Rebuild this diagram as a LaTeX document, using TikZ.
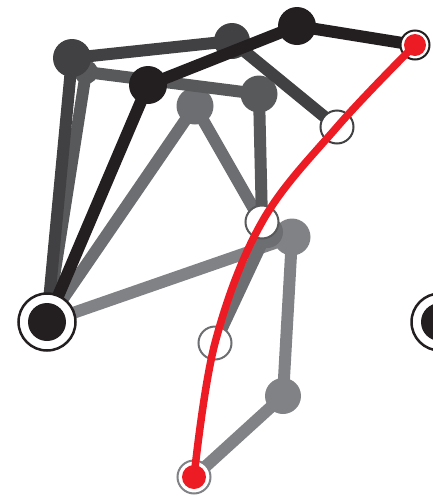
\documentclass[tikz,border=0pt]{standalone}
\usepackage{xcolor}
\usepackage{tikz}

\definecolor{poseA}{HTML}{231F20}
\definecolor{poseB}{HTML}{414042}
\definecolor{poseC}{HTML}{58595B}
\definecolor{poseD}{HTML}{6D6E71}
\definecolor{poseE}{HTML}{808285}
\definecolor{pathred}{HTML}{ED1C24}

\begin{document}
\begin{tikzpicture}[
  x=1pt, y=-1pt,
  link/.style={line width=12pt, line cap=round, line join=round},
  ring/.style={line width=2pt, fill=white},
  trace/.style={pathred, line width=7.5pt, line cap=round}
]
  \useasboundingbox (0,0) rectangle (432,499);

  % base and poses
  \coordinate (base)  at (47,322);
  \coordinate (base2) at (440,322);

  \coordinate (e1) at (292,237);
  \coordinate (e2) at (283,396);
  \coordinate (e3) at (194,477);

  \coordinate (d1) at (195,106);
  \coordinate (d2) at (267,232);
  \coordinate (d3) at (215,343);

  \coordinate (c1) at (86,72);
  \coordinate (c2) at (259,94);
  \coordinate (c3) at (262,222);

  \coordinate (b1) at (72,58);
  \coordinate (b2) at (232,41);
  \coordinate (b3) at (337,127);

  \coordinate (a1) at (148,85);
  \coordinate (a2) at (297,26);
  \coordinate (a3) at (415,45);

  % links, lightest pose first
  \draw[link, poseE] (base) -- (e1) -- (e2) -- (e3);
  \fill[poseE] (e1) circle[radius=18.5] (e2) circle[radius=18];

  \draw[link, poseD] (base) -- (d1) -- (d2) -- (d3);
  \fill[poseD] (d1) circle[radius=18.5] (d2) circle[radius=16];

  \draw[link, poseC] (base) -- (c1) -- (c2) -- (c3);
  \fill[poseC] (c1) circle[radius=12] (c2) circle[radius=18.5];

  \draw[link, poseB] (base) -- (b1) -- (b2) -- (b3);
  \fill[poseB] (b1) circle[radius=19] (b2) circle[radius=18];

  \draw[link, poseA] (base) -- (a1) -- (a2) -- (a3);
  \fill[poseA] (a1) circle[radius=19] (a2) circle[radius=19];

  % end points
  \draw[ring, draw=poseD] (d3) circle[radius=16.5];
  \draw[ring, draw=poseC] (c3) circle[radius=16.5];
  \draw[ring, draw=poseB] (b3) circle[radius=16.5];
  \draw[ring, draw=poseA] (a3) circle[radius=14.5];
  \draw[ring, draw=poseE] (e3) circle[radius=16.5];

  % fixed bases
  \draw[draw=poseA, line width=2.5pt, fill=white] (base) circle[radius=28.5];
  \fill[poseA] (base) circle[radius=19];
  \draw[draw=poseA, line width=2.5pt, fill=white] (base2) circle[radius=28.5];
  \fill[poseA] (base2) circle[radius=19];

  % path of the tip
  \draw[trace] plot[smooth, tension=0.6] coordinates {(a3) (b3) (c3) (d3) (e3)};
  \fill[pathred] (a3) circle[radius=11] (e3) circle[radius=12];
\end{tikzpicture}
\end{document}
